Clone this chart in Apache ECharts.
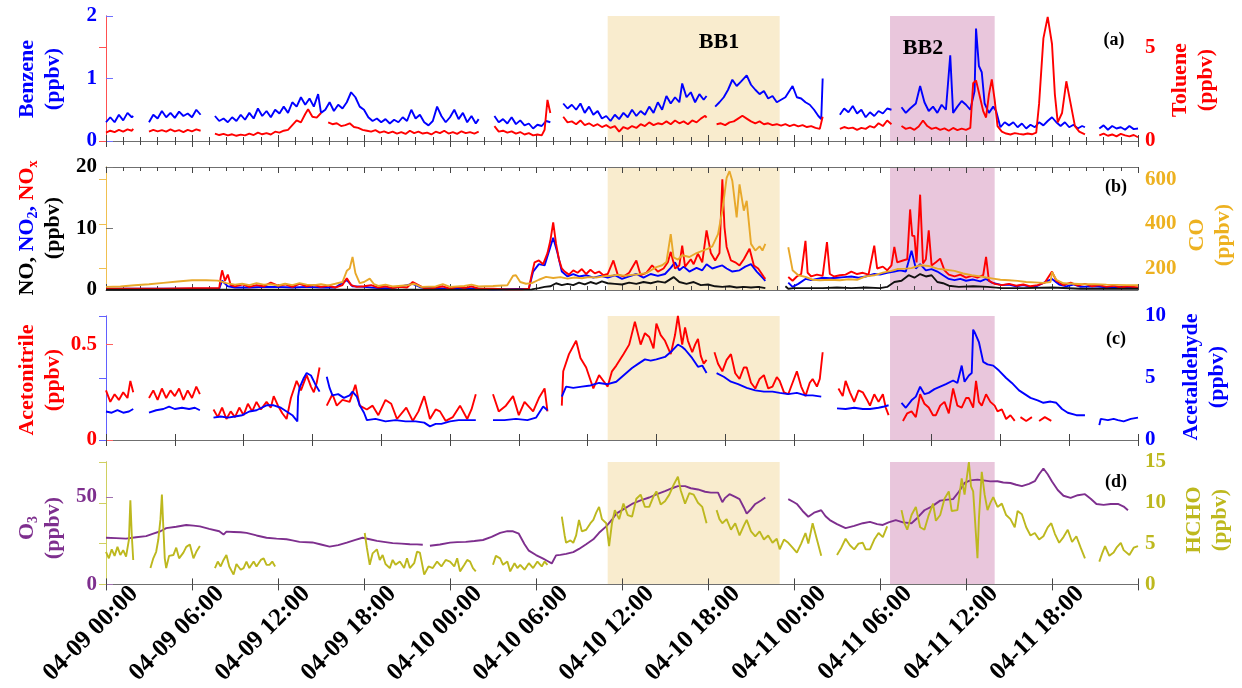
<!DOCTYPE html>
<html><head><meta charset="utf-8">
<script src="https://cdn.jsdelivr.net/npm/echarts@6/dist/echarts.min.js"></script>
<style>html,body{margin:0;padding:0;background:#fff}#c{width:1242px;height:688px}</style>
</head><body><div id="c"></div>
<script>
// x values are hours after 04-09 00:00; null = data gap
const tickLabels = ['04-09 00:00','04-09 06:00','04-09 12:00','04-09 18:00','04-10 00:00','04-10 06:00','04-10 12:00','04-10 18:00','04-11 00:00','04-11 06:00','04-11 12:00','04-11 18:00'];
const bb1 = [35, 47];
const bb2 = [54.7, 62];

const benzene = [[0,0.30],[0.3,0.38],[0.6,0.30],[0.9,0.42],[1.2,0.33],[1.5,0.45],[1.8,0.38],[1.9,0.40],null,
[3.0,0.30],[3.3,0.42],[3.6,0.36],[3.9,0.48],[4.2,0.38],[4.5,0.45],[4.8,0.37],[5.1,0.47],[5.4,0.40],[5.7,0.44],[6.0,0.38],[6.3,0.50],[6.6,0.42],null,
[7.6,0.40],[7.9,0.32],[8.2,0.36],[8.5,0.30],[8.8,0.38],[9.1,0.32],[9.4,0.42],[9.7,0.34],[10.0,0.45],[10.3,0.36],[10.6,0.52],[10.9,0.40],[11.2,0.48],[11.5,0.38],[11.8,0.50],[12.1,0.44],[12.4,0.55],[12.7,0.45],[13.0,0.62],[13.3,0.55],[13.6,0.70],[13.9,0.58],[14.2,0.68],[14.5,0.55],[14.8,0.75],[15.0,0.45],[15.3,0.50],[15.6,0.62],[15.9,0.48],[16.2,0.58],[16.5,0.52],[16.8,0.62],[17.1,0.78],[17.4,0.70],[17.7,0.55],[18.0,0.50],[18.3,0.38],[18.6,0.32],[18.9,0.36],[19.2,0.30],[19.5,0.35],[19.8,0.28],[20.1,0.34],[20.4,0.30],[20.7,0.38],[21.0,0.32],[21.3,0.50],[21.6,0.36],[21.9,0.42],[22.2,0.30],[22.5,0.25],[22.8,0.32],[23.1,0.55],[23.4,0.40],[23.7,0.30],[24.0,0.38],[24.3,0.50],[24.6,0.35],[24.9,0.45],[25.2,0.30],[25.5,0.40],[25.8,0.28],[26.0,0.35],null,
[27.1,0.40],[27.4,0.30],[27.7,0.35],[28.0,0.28],[28.3,0.38],[28.6,0.27],[28.9,0.33],[29.2,0.25],[29.5,0.28],[29.8,0.20],[30.1,0.26],[30.4,0.24],[30.7,0.32],[31.0,0.30],null,
[31.9,0.60],[32.2,0.52],[32.5,0.58],[32.8,0.50],[33.1,0.60],[33.4,0.45],[33.7,0.55],[34.0,0.42],[34.3,0.48],[34.6,0.36],[34.9,0.40],[35.2,0.32],[35.5,0.42],[35.8,0.35],[36.1,0.45],[36.4,0.38],[36.7,0.50],[37.0,0.40],[37.3,0.48],[37.6,0.42],[37.9,0.55],[38.2,0.45],[38.5,0.62],[38.8,0.50],[39.1,0.72],[39.4,0.60],[39.7,0.70],[40.0,0.62],[40.2,0.92],[40.5,0.70],[40.8,0.78],[41.1,0.62],[41.4,0.75],[41.7,0.66],[41.9,0.72],null,
[42.5,0.55],[42.8,0.62],[43.1,0.70],[43.4,0.82],[43.7,0.98],[44.0,0.88],[44.3,0.95],[44.7,1.05],[45.0,0.90],[45.3,0.82],[45.6,0.75],[45.9,0.80],[46.2,0.68],[46.5,0.72],[46.8,0.62],[47.1,0.66],[47.4,0.70],[47.9,0.88],[48.2,0.70],[48.5,0.68],[48.8,0.62],[49.1,0.58],[49.4,0.50],[49.7,0.40],[49.9,0.35],[50.0,1.00],null,
[51.2,0.42],[51.5,0.52],[51.8,0.46],[52.1,0.56],[52.4,0.44],[52.7,0.50],[53.0,0.38],[53.3,0.46],[53.6,0.40],[53.9,0.48],[54.2,0.44],[54.5,0.52],[54.8,0.50],null,
[55.5,0.54],[55.8,0.45],[56.1,0.52],[56.5,0.60],[56.8,0.88],[57.1,0.62],[57.4,0.48],[57.7,0.55],[58.0,0.45],[58.3,0.58],[58.6,0.50],[58.9,1.37],[59.1,0.45],[59.4,0.55],[59.7,0.64],[60.0,0.58],[60.3,0.50],[60.6,0.80],[60.7,1.80],[60.9,1.20],[61.1,1.10],[61.3,0.60],[61.6,0.45],[61.9,0.55],[62.1,0.48],[62.4,0.22],[62.7,0.30],[63.0,0.25],[63.3,0.30],[63.6,0.22],[63.9,0.28],[64.2,0.20],[64.5,0.26],[64.8,0.22],[65.1,0.30],[65.4,0.25],[65.7,0.32],[66.0,0.38],[66.3,0.30],[66.6,0.24],[66.9,0.30],[67.2,0.22],[67.5,0.26],[67.8,0.20],[68.1,0.24],[68.3,0.22],null,
[69.3,0.20],[69.6,0.25],[69.9,0.18],[70.2,0.24],[70.5,0.20],[70.8,0.22],[71.1,0.18],[71.4,0.24],[71.7,0.19],[72.0,0.20]];

const toluene = [[0,0.45],[0.3,0.55],[0.6,0.48],[0.9,0.60],[1.2,0.50],[1.5,0.62],[1.8,0.55],[1.9,0.65],null,
[3.0,0.50],[3.3,0.60],[3.6,0.52],[3.9,0.58],[4.2,0.50],[4.5,0.62],[4.8,0.52],[5.1,0.58],[5.4,0.48],[5.7,0.60],[6.0,0.52],[6.3,0.62],[6.6,0.55],null,
[7.6,0.40],[7.9,0.32],[8.2,0.38],[8.5,0.30],[8.8,0.36],[9.1,0.28],[9.4,0.34],[9.7,0.30],[10.0,0.40],[10.3,0.32],[10.6,0.45],[10.9,0.36],[11.2,0.42],[11.5,0.35],[11.8,0.50],[12.1,0.45],[12.4,0.55],[12.7,0.60],[13.0,0.85],[13.3,1.10],[13.6,1.00],[13.9,1.45],[14.1,1.70],[14.4,1.30],[14.7,1.25],[15.0,1.50],null,
[15.5,1.00],[15.8,0.90],[16.1,0.95],[16.4,0.80],[16.7,0.85],[17.0,0.95],[17.3,0.75],[17.6,0.70],[17.9,0.60],[18.2,0.55],[18.5,0.50],[18.8,0.58],[19.1,0.45],[19.4,0.52],[19.7,0.42],[20.0,0.50],[20.3,0.40],[20.6,0.48],[20.9,0.38],[21.2,0.55],[21.5,0.42],[21.8,0.50],[22.1,0.40],[22.4,0.45],[22.7,0.35],[23.0,0.50],[23.3,0.42],[23.6,0.55],[23.9,0.40],[24.2,0.48],[24.5,0.38],[24.8,0.52],[25.1,0.42],[25.4,0.48],[25.7,0.40],[26.0,0.50],null,
[27.1,0.80],[27.4,0.50],[27.7,0.55],[28.0,0.45],[28.3,0.52],[28.6,0.40],[28.9,0.48],[29.2,0.35],[29.5,0.42],[29.8,0.30],[30.1,0.35],[30.4,0.30],[30.6,0.60],[30.8,2.20],[31.0,1.50],null,
[31.9,1.30],[32.2,1.00],[32.5,1.05],[32.8,0.90],[33.1,1.10],[33.4,0.85],[33.7,0.95],[34.0,0.80],[34.3,0.90],[34.6,0.75],[34.9,0.85],[35.2,0.70],[35.5,0.80],[35.8,0.50],[36.1,0.75],[36.4,0.65],[36.7,0.80],[37.0,0.70],[37.3,0.90],[37.6,0.80],[37.9,1.00],[38.2,0.85],[38.5,0.95],[38.8,0.90],[39.1,1.05],[39.4,0.90],[39.7,1.10],[40.0,0.95],[40.3,1.05],[40.6,0.90],[40.9,1.10],[41.2,1.00],[41.5,1.20],[41.8,1.35],[41.9,1.25],null,
[42.6,0.90],[42.9,0.95],[43.2,0.85],[43.5,1.00],[43.8,1.05],[44.1,1.20],[44.4,1.35],[44.7,1.20],[45.0,1.05],[45.3,0.95],[45.6,1.05],[45.9,0.90],[46.2,0.95],[46.5,0.85],[46.8,0.90],[47.1,0.82],[47.4,0.90],[47.7,0.80],[48.0,0.88],[48.3,0.78],[48.6,0.85],[48.9,0.75],[49.2,0.80],[49.5,0.70],[49.8,0.65],[50.0,1.30],null,
[51.2,0.65],[51.5,0.75],[51.8,0.68],[52.1,0.72],[52.4,0.60],[52.7,0.70],[53.0,0.65],[53.3,0.80],[53.6,0.72],[53.9,0.95],[54.2,0.80],[54.5,1.10],[54.8,0.90],null,
[55.5,0.80],[55.8,0.65],[56.1,0.72],[56.4,0.60],[56.7,0.78],[57.0,1.10],[57.3,0.80],[57.6,0.65],[57.9,0.72],[58.2,0.60],[58.5,0.68],[58.8,0.55],[59.1,0.70],[59.4,0.58],[59.7,0.66],[60.0,0.60],[60.3,0.70],[60.5,3.10],[60.7,3.25],[60.9,2.60],[61.2,1.60],[61.4,1.26],[61.6,2.50],[61.8,3.30],[62.0,2.20],[62.2,0.80],[62.5,0.50],[62.8,0.40],[63.1,0.35],[63.4,0.42],[63.7,0.38],[64.0,0.35],[64.3,0.40],[64.6,0.36],[64.9,0.45],[65.1,2.00],[65.4,5.50],[65.7,6.65],[66.0,5.20],[66.2,2.50],[66.4,1.00],[66.7,1.50],[67.0,3.20],[67.3,2.00],[67.6,0.80],[67.9,0.50],[68.3,0.36],null,
[69.3,0.30],[69.6,0.40],[69.9,0.28],[70.2,0.35],[70.5,0.25],[70.8,0.38],[71.1,0.30],[71.4,0.25],[71.7,0.32],[72.0,0.20]];

const nox = [[0,0.2],[2,0.2],[4,0.2],[6,0.3],[7.9,0.3],[8.0,2.0],[8.1,3.2],[8.3,1.5],[8.5,2.5],[8.7,0.8],[9.0,0.6],[9.5,0.9],[10,0.5],[10.5,0.8],[11,0.6],[11.5,1.2],[12,0.7],[12.5,0.9],[13,0.5],[13.5,1.0],[14,0.6],[14.5,0.8],[15,0.5],[15.5,0.7],[16,0.4],[16.5,0.8],[16.8,1.9],[17.1,0.8],[17.5,0.5],[18,0.6],[18.5,0.8],[19,0.4],[19.5,0.6],[20,0.3],[20.5,0.5],[21,0.4],[21.4,1.3],[21.8,0.8],[22.2,0.3],[22.6,0.2],[23,0.4],[23.5,0.6],[24,0.2],[24.5,0.5],[25,0.3],[25.5,0.6],[26,0.2],[27,0.2],[28,0.1],[29,0.1],[29.5,0.2],[29.7,2.5],[29.9,4.5],[30.2,4.8],[30.5,4.2],[30.8,6.0],[31.0,8.0],[31.2,11.0],[31.4,7.5],[31.6,5.0],[31.8,3.5],[32.0,3.0],[32.3,2.5],[32.6,3.2],[32.9,2.8],[33.2,3.4],[33.5,2.6],[33.8,3.3],[34.1,2.7],[34.4,3.0],[34.7,2.4],[35.0,2.6],[35.4,4.8],[35.7,2.5],[36.1,2.2],[36.5,2.8],[37.0,4.8],[37.3,2.4],[37.7,2.8],[38.1,4.0],[38.5,3.0],[38.9,3.5],[39.2,4.5],[39.4,6.2],[39.7,3.5],[40.0,4.0],[40.2,7.2],[40.4,3.8],[40.8,5.0],[41.0,4.2],[41.3,5.9],[41.6,4.5],[41.9,9.7],[42.2,6.0],[42.5,4.8],[42.8,6.0],[43.0,18.0],[43.15,10.2],[43.3,7.0],[43.6,4.8],[43.9,4.5],[44.2,4.0],[44.5,5.0],[44.9,6.7],[45.2,4.0],[45.5,3.5],[45.9,2.1],[46.0,1.8],null,
[47.6,2.1],[47.9,1.5],[48.2,2.2],[48.5,2.6],[48.8,8.0],[48.95,2.8],[49.2,2.2],[49.6,2.5],[50.0,2.3],[50.3,7.8],[50.5,2.6],[50.8,2.2],[51.2,2.4],[51.6,2.5],[52.0,3.0],[52.4,2.6],[52.8,2.8],[53.2,2.5],[53.6,7.2],[53.8,3.5],[54.2,3.8],[54.5,3.2],[54.8,4.0],[55.0,7.0],[55.2,4.5],[55.6,4.8],[55.9,5.0],[56.1,13.1],[56.25,8.8],[56.4,8.8],[56.55,4.5],[56.8,15.5],[57.0,4.3],[57.2,5.0],[57.4,9.7],[57.6,4.0],[57.9,4.5],[58.2,5.1],[58.5,3.2],[58.8,2.5],[59.2,2.2],[59.6,2.5],[60.0,2.0],[60.4,2.3],[60.8,2.0],[61.2,2.4],[61.4,5.4],[61.6,1.5],[62.0,1.0],[62.5,0.8],[63,1.0],[63.5,0.7],[64,0.9],[64.5,0.6],[65,0.8],[65.5,1.2],[66.0,3.0],[66.3,1.5],[66.8,0.8],[67.3,1.2],[67.8,0.7],[68.3,1.0],[68.8,0.6],[69.3,0.8],[69.8,0.5],[70.3,0.7],[70.8,0.4],[71.3,0.6],[72,0.4]];

const no2 = [[0,0.2],[4,0.2],[7.9,0.2],[8.1,1.5],[8.5,0.6],[9,0.4],[10,0.4],[11,0.5],[12,0.5],[13,0.4],[14,0.5],[15,0.4],[16,0.4],[16.8,1.6],[17.2,0.6],[18,0.5],[19,0.3],[20,0.3],[21.4,1.0],[22,0.4],[23,0.3],[24,0.2],[25,0.3],[26,0.2],[27,0.1],[29.5,0.2],[29.8,3.0],[30.2,4.2],[30.6,4.0],[31.0,7.0],[31.2,8.5],[31.5,6.0],[31.8,3.0],[32.2,2.2],[32.6,2.6],[33,2.2],[33.5,2.4],[34,2.0],[34.5,2.3],[35,2.0],[35.5,2.4],[36,1.8],[36.5,2.2],[37,2.6],[37.5,2.0],[38,2.6],[38.5,2.3],[39,2.6],[39.4,3.6],[39.7,4.5],[40,3.2],[40.3,3.8],[40.7,3.0],[41.2,3.6],[41.6,3.2],[41.9,4.2],[42.3,3.5],[42.7,3.8],[43.0,4.0],[43.3,3.5],[43.7,3.0],[44.2,3.2],[44.6,3.8],[45.0,4.2],[45.4,3.0],[45.8,2.0],[46.0,1.5],null,
[47.6,1.2],[47.9,0.5],[48.3,1.0],[48.8,1.8],[49.2,1.6],[49.6,1.8],[50.0,2.0],[50.5,1.9],[51,2.0],[51.5,2.1],[52,2.2],[52.5,2.0],[53,2.2],[53.6,2.6],[54,2.5],[54.5,2.8],[55,3.0],[55.4,3.2],[55.8,3.0],[56.2,6.4],[56.5,3.5],[56.8,4.2],[57.2,3.2],[57.6,3.4],[58,3.0],[58.4,2.4],[58.8,1.8],[59.2,1.6],[59.6,1.8],[60,1.5],[60.5,1.7],[61,1.4],[61.4,1.8],[61.8,1.2],[62.5,0.8],[63,0.9],[63.5,0.6],[64,0.8],[64.5,0.5],[65,0.7],[66,1.8],[66.5,0.9],[67,0.6],[67.5,0.9],[68,0.5],[69,0.6],[70,0.4],[71,0.5],[72,0.3]];

const no = [[0,0.05],[10,0.05],[20,0.05],[29.7,0.1],[30.2,0.3],[30.6,0.5],[31,0.6],[31.4,1.1],[31.8,0.8],[32.2,1.0],[32.6,0.8],[33,1.2],[33.4,0.9],[33.8,1.3],[34.2,1.0],[34.6,1.4],[35,1.1],[35.5,1.0],[36,0.9],[36.5,1.2],[37,1.0],[37.5,1.3],[38,1.1],[38.5,1.4],[39,1.2],[39.6,2.1],[40,1.3],[40.5,1.0],[41,1.3],[41.5,0.8],[42,0.9],[42.5,0.6],[43,0.5],[43.5,0.6],[44,0.4],[44.5,0.5],[45,0.4],[45.5,0.5],[46,0.3],null,
[47.4,0.6],[47.6,0.2],[48,0.3],[49,0.3],[50,0.3],[51,0.4],[52,0.3],[53,0.4],[54,0.3],[54.5,0.5],[55,1.3],[55.5,1.5],[56,2.4],[56.4,2.0],[56.8,2.6],[57.2,2.2],[57.6,2.4],[58,1.3],[58.4,1.1],[58.8,0.7],[59.5,0.5],[60.5,0.6],[61.5,0.5],[62.5,0.3],[64,0.3],[66,0.4],[68,0.2],[70,0.2],[72,0.2]];

const co = [[0,118],[1,120],[2,125],[3,130],[4,136],[5,142],[6,148],[7,148],[7.8,146],[8.4,135],[9,128],[9.5,132],[10,126],[10.5,135],[11,128],[11.5,130],[12,124],[12.5,132],[13,126],[13.5,135],[14,128],[14.5,126],[15,130],[15.5,125],[16,132],[16.5,140],[16.8,190],[17.0,200],[17.2,252],[17.4,180],[17.7,135],[18,140],[18.4,155],[18.7,130],[19,122],[19.5,128],[20,120],[21,125],[21.5,132],[22,118],[23,120],[23.5,130],[24,118],[25,122],[25.5,128],[26,120],[27,122],[28,125],[28.4,168],[28.6,170],[28.9,140],[29.3,132],[29.7,135],[30.2,150],[30.7,163],[31.2,158],[31.7,162],[32.2,155],[32.7,160],[33.2,157],[33.7,162],[34.2,160],[34.7,165],[35.2,168],[35.7,172],[36.2,168],[36.7,172],[37.2,175],[37.7,180],[38.4,207],[38.8,215],[39.1,230],[39.4,355],[39.6,250],[39.9,240],[40.2,260],[40.7,252],[41.2,270],[41.6,280],[42.0,290],[42.3,300],[42.7,355],[43.0,460],[43.3,607],[43.5,637],[43.7,593],[44.0,430],[44.2,578],[44.5,460],[44.7,504],[45.0,311],[45.3,281],[45.6,300],[45.8,281],[46.0,311],null,
[47.6,296],[47.9,193],[48.3,170],[48.8,163],[49.3,150],[49.8,148],[50.5,150],[51.2,148],[51.8,152],[52.4,150],[53,165],[53.6,170],[54.2,182],[54.8,190],[55.2,198],[55.8,200],[56.2,202],[56.8,215],[57.4,212],[58,200],[58.6,195],[59.2,190],[59.8,178],[60.4,170],[61,165],[61.4,160],[61.9,155],[62.4,150],[63,148],[63.6,145],[64.2,140],[64.8,138],[65.4,136],[65.9,140],[66.0,185],[66.3,150],[66.8,134],[67.5,132],[68.2,130],[69,130],[69.8,128],[70.5,127],[71.2,126],[72,125]];

const acetonitrile = [[0,0.26],[0.3,0.20],[0.6,0.24],[0.9,0.21],[1.2,0.25],[1.5,0.22],[1.7,0.31],[1.9,0.25],null,
[3.0,0.22],[3.3,0.26],[3.6,0.21],[3.9,0.27],[4.2,0.22],[4.5,0.26],[4.8,0.23],[5.1,0.27],[5.4,0.21],[5.7,0.26],[6.0,0.22],[6.3,0.28],[6.55,0.24],null,
[7.5,0.16],[7.8,0.12],[8.1,0.17],[8.4,0.11],[8.7,0.15],[9.0,0.12],[9.3,0.17],[9.6,0.13],[9.9,0.19],[10.2,0.15],[10.5,0.20],[10.8,0.16],[11.2,0.20],[11.5,0.17],[11.7,0.23],[12.0,0.18],[12.3,0.14],[12.6,0.11],[12.9,0.22],[13.3,0.31],[13.6,0.26],[14.0,0.34],[14.3,0.28],[14.5,0.25],[14.7,0.30],[14.9,0.38],null,
[15.4,0.18],[15.8,0.24],[16.1,0.18],[16.5,0.21],[17.0,0.20],[17.4,0.29],[17.7,0.18],[18.2,0.16],[18.6,0.18],[19.0,0.13],[19.5,0.21],[19.9,0.19],[20.3,0.11],[20.95,0.17],[21.4,0.10],[21.8,0.15],[22.2,0.23],[22.6,0.11],[23.0,0.16],[23.3,0.15],[23.7,0.10],[24.2,0.12],[24.7,0.18],[25.2,0.11],[25.5,0.16],[25.8,0.24],null,
[27.0,0.24],[27.4,0.15],[27.9,0.18],[28.4,0.23],[28.8,0.13],[29.2,0.20],[29.8,0.15],[30.2,0.22],[30.6,0.27],[30.8,0.15],null,
[31.8,0.18],[31.9,0.36],[32.3,0.45],[32.8,0.52],[33.1,0.43],[33.5,0.38],[34.0,0.27],[34.4,0.34],[34.8,0.30],[35.0,0.28],[35.3,0.36],[35.6,0.39],[36.1,0.45],[36.5,0.50],[36.9,0.62],[37.3,0.50],[37.6,0.56],[37.9,0.54],[38.2,0.48],[38.4,0.61],[38.7,0.55],[39.0,0.52],[39.4,0.45],[39.7,0.55],[39.9,0.65],[40.2,0.50],[40.4,0.59],[40.6,0.52],[40.9,0.46],[41.1,0.50],[41.3,0.53],[41.5,0.44],[41.7,0.40],[41.9,0.42],null,
[42.45,0.46],[42.7,0.40],[43.0,0.36],[43.3,0.42],[43.6,0.45],[43.9,0.35],[44.2,0.32],[44.5,0.38],[44.7,0.38],[45.0,0.30],[45.3,0.27],[45.6,0.32],[45.9,0.34],[46.2,0.27],[46.5,0.28],[46.8,0.33],[47.0,0.31],[47.3,0.25],[47.6,0.24],[47.9,0.30],[48.2,0.36],[48.5,0.28],[48.8,0.23],[49.1,0.30],[49.3,0.32],[49.6,0.28],[49.8,0.32],[50.0,0.46],null,
[51.1,0.27],[51.4,0.23],[51.6,0.31],[51.9,0.25],[52.2,0.20],[52.5,0.26],[52.8,0.25],[53.1,0.21],[53.3,0.18],[53.6,0.24],[53.9,0.20],[54.2,0.24],[54.4,0.17],[54.6,0.13],null,
[55.6,0.10],[55.9,0.14],[56.2,0.15],[56.5,0.12],[56.8,0.24],[57.1,0.19],[57.4,0.17],[57.7,0.13],[57.9,0.13],[58.2,0.18],[58.5,0.20],[58.8,0.14],[59.1,0.27],[59.4,0.18],[59.7,0.17],[60.0,0.22],[60.2,0.22],[60.5,0.17],[60.7,0.31],[60.9,0.20],[61.1,0.18],[61.4,0.24],[61.7,0.20],[62.0,0.18],[62.2,0.15],[62.5,0.16],[62.8,0.11],[63.1,0.13],[63.4,0.10],null,
[63.8,0.12],[64.2,0.10],[64.6,0.12],null,[65.1,0.10],[65.5,0.12],[65.95,0.10]];

const acetaldehyde = [[0,2.3],[0.4,2.2],[0.8,2.4],[1.2,2.2],[1.6,2.3],[1.9,2.5],null,
[3.0,2.2],[3.5,2.4],[4.0,2.5],[4.4,2.7],[4.8,2.5],[5.3,2.6],[5.8,2.5],[6.2,2.6],[6.55,2.4],null,
[7.5,1.8],[8.0,1.9],[8.5,1.8],[9.0,1.9],[9.5,2.0],[10.0,2.3],[10.5,2.4],[11.2,2.8],[11.7,2.8],[12.2,2.6],[12.6,2.3],[13.0,2.0],[13.35,1.5],[13.4,3.5],[13.5,4.2],[13.8,5.0],[14.0,5.4],[14.3,5.2],[14.6,4.5],[14.9,3.9],null,
[15.4,5.1],[15.6,4.2],[15.8,3.6],[16.2,3.7],[16.6,3.4],[17.0,3.6],[17.2,3.9],[17.5,3.5],[17.7,2.8],[18.0,2.2],[18.2,1.6],[18.8,1.7],[19.5,1.5],[20.2,1.6],[20.9,1.5],[21.6,1.5],[22.2,1.4],[22.6,1.1],[23.0,1.3],[23.4,1.3],[24.0,1.5],[24.6,1.6],[25.2,1.6],[25.8,1.6],null,
[27.0,1.6],[27.8,1.6],[28.6,1.7],[29.4,1.6],[30.0,1.8],[30.5,2.7],[30.8,2.4],null,
[31.8,3.5],[32.1,4.3],[32.6,4.2],[33.2,4.3],[33.8,4.4],[34.4,4.6],[35.0,4.5],[35.6,4.7],[36.2,5.3],[36.7,5.8],[37.2,6.2],[37.6,6.5],[38.0,6.4],[38.4,6.5],[39.0,6.7],[39.5,7.2],[39.9,7.7],[40.2,7.5],[40.4,7.3],[40.9,6.6],[41.3,5.9],[41.6,6.0],[41.9,5.4],null,
[42.6,5.4],[43.1,5.1],[43.6,4.7],[44.1,4.5],[44.7,4.2],[45.3,4.0],[45.9,3.9],[46.5,3.9],[47.0,3.8],[47.6,3.7],[48.2,3.8],[48.8,3.6],[49.3,3.6],[49.9,3.5],null,
[51.0,2.55],[51.6,2.5],[52.2,2.6],[52.8,2.5],[53.3,2.5],[53.9,2.6],[54.3,2.7],[54.6,2.8],null,
[55.5,3.0],[55.8,2.6],[56.2,3.2],[56.5,3.5],[56.8,4.3],[57.1,3.7],[57.4,3.8],[57.8,4.1],[58.2,4.3],[58.6,4.5],[59.1,4.8],[59.4,4.6],[59.7,6.0],[59.9,4.7],[60.2,5.2],[60.4,5.4],[60.5,8.9],[60.6,8.7],[60.9,7.9],[61.2,6.3],[61.5,6.1],[61.9,6.0],[62.3,5.6],[62.8,5.0],[63.2,4.6],[63.7,4.0],[64.1,3.7],[64.5,3.4],[65.0,3.2],[65.4,3.0],[65.9,3.1],[66.3,3.0],[66.7,2.5],[67.1,2.2],[67.7,2.0],[68.3,2.0],null,
[69.3,1.2],[69.4,1.7],[69.9,1.6],[70.3,1.7],[70.6,1.6],[71.0,1.5],[71.5,1.7],[72.0,1.8]];

const o3 = [[0,26.7],[0.7,26.5],[1.4,26.2],[2.1,27.0],[2.8,27.6],[3.3,29],[3.8,30.4],[4.2,32.2],[4.9,33.0],[5.6,34.0],[6.1,33.6],[6.55,33.2],[7.2,31.8],[7.9,30.4],[8.2,28.5],[8.4,30.2],[8.9,30.0],[9.4,29.8],[9.8,29.5],[10.5,28.0],[11.2,26.7],[11.9,26.2],[12.6,25.8],[13.0,25.2],[13.5,24.3],[14.4,24.0],[15.0,22.8],[15.6,21.6],[16.2,22.5],[16.8,23.9],[17.4,25.5],[17.9,26.7],[18.4,25.8],[18.9,24.9],[19.5,24.2],[20.0,23.6],[20.6,23.3],[21.2,23.0],[21.7,22.9],[22.1,22.7],null,
[22.6,22.1],[23.3,22.8],[24.0,23.9],[24.5,24.2],[25.1,24.3],[25.7,24.8],[26.3,25.4],[26.9,27.2],[27.5,29.5],[28.0,30.5],[28.4,30.4],[28.8,29.0],[29.2,23.0],[29.5,19.3],[30.0,16.8],[30.5,14.7],[30.8,13.4],[31.1,12.0],[31.4,16.6],[31.7,16.9],[32.1,17.5],[32.6,18.5],[33.0,20.3],[33.5,23.0],[34.0,25.8],[34.4,29.5],[34.9,33.2],[35.3,37.0],[35.6,40.5],[36.2,43.5],[36.7,46.0],[37.3,48.0],[37.9,49.7],[38.4,51.5],[39.0,53.4],[39.5,55.0],[39.9,56.2],[40.4,56.2],[40.8,55.0],[41.3,54.3],[41.8,53.0],[42.2,52.5],[42.7,52.5],[43.0,47.0],[43.2,49.5],[43.5,51.6],[43.9,50.0],[44.2,48.8],[44.5,44.0],[44.7,40.5],[45.0,43.0],[45.3,46.0],[45.7,48.0],[46.0,49.7],null,
[47.6,48.8],[48.0,47.0],[48.2,46.0],[48.6,42.0],[49.0,38.7],[49.4,41.0],[49.9,42.4],[50.2,39.0],[50.5,36.8],[51.0,34.5],[51.6,32.2],[52.2,33.5],[52.8,35.0],[53.3,35.8],[53.8,34.5],[54.2,34.0],[54.6,35.5],[55.1,36.8],[55.6,35.5],[56.2,35.0],[56.6,38.0],[57.1,42.4],[57.6,44.5],[58.2,47.9],[58.7,48.5],[59.1,48.8],[59.5,53.0],[59.9,58.0],[60.3,59.5],[60.8,59.9],[61.2,59.5],[61.7,58.9],[62.2,59.0],[62.6,58.3],[63.1,58.0],[63.5,57.0],[63.9,56.2],[64.4,57.5],[64.8,59.0],[65.1,63.0],[65.4,66.3],[65.7,63.0],[66.0,58.9],[66.4,54.0],[66.8,50.7],[67.3,49.5],[67.8,51.0],[68.3,51.6],[68.7,49.0],[69.1,46.0],[69.6,45.5],[70.1,46.0],[70.6,46.0],[71.0,44.5],[71.3,42.4]];

const hcho = [[0,4.0],[0.2,3.2],[0.4,4.3],[0.6,3.5],[0.8,4.6],[1.0,3.6],[1.2,4.2],[1.4,3.4],[1.6,5.5],[1.7,10.3],[1.8,6.0],[1.9,3.0],null,
[3.1,2.0],[3.3,3.2],[3.5,4.0],[3.65,5.5],[3.8,8.0],[3.9,11.0],[4.0,7.0],[4.1,3.2],[4.2,2.0],[4.4,3.5],[4.7,3.6],[4.9,4.5],[5.1,3.2],[5.4,3.9],[5.6,4.6],[5.85,4.9],[6.1,3.2],[6.3,4.0],[6.55,4.7],null,
[7.6,2.0],[7.8,2.8],[8.0,2.2],[8.2,3.0],[8.4,3.6],[8.6,2.2],[8.9,1.2],[9.1,2.5],[9.4,1.8],[9.6,2.0],[9.8,2.8],[10.0,2.0],[10.3,2.8],[10.5,2.2],[10.8,3.0],[11.0,3.2],[11.2,2.4],[11.4,2.4],[11.6,2.8],[11.8,2.2],null,
[18.05,6.3],[18.2,4.5],[18.4,2.4],[18.6,3.8],[18.9,4.3],[19.1,3.0],[19.3,3.6],[19.5,2.5],[19.8,2.0],[20.0,3.0],[20.2,2.4],[20.5,2.8],[20.8,2.0],[21.0,3.2],[21.2,2.0],[21.5,2.6],[21.7,4.0],[21.9,3.9],[22.2,1.2],[22.5,2.2],[22.8,2.0],[23.1,2.8],[23.4,2.2],[23.7,3.0],[24.0,2.8],[24.3,2.2],[24.5,3.2],[24.7,1.6],[25.0,2.4],[25.2,3.0],[25.4,2.8],[25.6,2.0],[25.8,1.6],null,
[27.0,2.4],[27.2,3.5],[27.5,3.2],[27.7,2.4],[28.0,2.8],[28.2,1.6],[28.5,2.6],[28.7,2.0],[28.9,2.4],[29.2,1.8],[29.5,2.6],[29.8,2.0],[30.1,2.8],[30.4,2.2],[30.6,2.8],[30.8,2.4],null,
[31.8,8.3],[32.0,6.0],[32.1,5.1],[32.4,5.4],[32.6,5.1],[32.8,6.0],[33.0,7.9],[33.2,6.5],[33.5,6.7],[33.8,7.5],[34.0,7.9],[34.2,8.8],[34.4,9.5],[34.6,8.0],[34.9,7.5],[35.1,4.7],[35.3,7.5],[35.5,9.1],[35.8,8.0],[36.1,9.9],[36.4,8.5],[36.7,8.3],[37.0,10.5],[37.3,11.0],[37.6,9.5],[37.9,9.5],[38.2,10.8],[38.4,11.4],[38.7,9.8],[39.0,10.2],[39.3,11.0],[39.6,12.2],[39.9,13.2],[40.1,11.5],[40.4,9.9],[40.7,11.2],[41.0,11.0],[41.3,10.0],[41.6,9.5],[41.9,7.5],null,
[42.6,9.1],[42.8,8.0],[43.0,7.5],[43.3,8.0],[43.6,6.7],[43.9,7.5],[44.2,6.0],[44.5,7.2],[44.7,7.9],[45.0,6.5],[45.3,5.9],[45.6,6.5],[45.9,5.5],[46.2,6.0],[46.5,5.1],[46.8,5.6],[47.0,4.3],[47.3,5.5],[47.6,5.1],[47.9,4.5],[48.2,3.9],[48.5,5.0],[48.8,6.3],[49.0,5.0],[49.3,7.5],[49.6,5.5],[49.9,3.5],null,
[51.0,3.6],[51.3,4.5],[51.6,5.6],[51.9,4.8],[52.2,4.3],[52.5,5.0],[52.8,5.1],[53.0,4.3],[53.3,4.3],[53.6,5.5],[53.9,6.3],[54.2,5.8],[54.5,7.1],null,
[55.5,9.1],[55.7,7.5],[55.9,6.7],[56.2,8.5],[56.5,9.5],[56.8,7.0],[57.1,6.7],[57.4,8.5],[57.7,9.9],[57.9,7.8],[58.2,8.5],[58.5,10.5],[58.8,11.4],[59.0,9.0],[59.4,9.1],[59.7,13.0],[59.9,11.0],[60.2,15.0],[60.35,12.0],[60.5,11.4],[60.8,3.2],[60.9,8.0],[61.1,13.8],[61.3,11.0],[61.5,9.1],[61.7,10.0],[61.9,10.7],[62.2,9.5],[62.5,9.9],[62.8,8.5],[63.1,8.0],[63.4,7.0],[63.6,9.0],[63.9,8.6],[64.2,7.0],[64.5,6.0],[64.8,6.3],[65.1,5.5],[65.4,5.9],[65.7,7.0],[65.95,7.5],[66.2,6.2],[66.5,5.1],[66.8,5.8],[67.1,6.7],[67.4,5.2],[67.7,5.9],[68.0,4.5],[68.3,3.2],null,
[69.3,2.8],[69.5,3.8],[69.7,4.7],[70.0,3.5],[70.3,3.9],[70.5,4.5],[70.8,5.1],[71.0,4.2],[71.4,3.6],[71.7,4.5],[72.0,4.7]];

const FONT = '"Liberation Serif","Times New Roman",serif';
const chart = echarts.init(document.getElementById('c'), null, {renderer: 'canvas'});

const grids = [
  {left: 106, right: 104, top: 16, height: 125},
  {left: 106, right: 104, top: 167, height: 123},
  {left: 106, right: 104, top: 316, height: 124},
  {left: 106, right: 104, top: 462, height: 126}
];
const xIntervals = [6, 6, 4.8, 6];
const xMinor = [true, true, false, false];

const xAxes = [];
grids.forEach((g, i) => {
  ['bottom', 'top'].forEach(pos => {
    xAxes.push({
      type: 'value', gridIndex: i, position: pos, min: 0, max: 72, interval: xIntervals[i],
      axisLine: {show: true, lineStyle: {color: '#6f6f6f', width: 1}},
      axisTick: {show: true, inside: true, length: 6, lineStyle: {color: '#444'}},
      minorTick: {show: xMinor[i], splitNumber: 5, length: 4, lineStyle: {color: '#444'}},
      splitLine: {show: false},
      axisLabel: (i === 3 && pos === 'bottom') ? {
        show: true, rotate: 45, margin: 34, padding: [0, -40, 0, 0], color: '#000', fontFamily: FONT, fontWeight: 'bold', fontSize: 25,
        formatter: v => { const k = Math.round(v / 6); return Math.abs(v - k * 6) < 1e-6 && tickLabels[k] ? tickLabels[k] : ''; }
      } : {show: false}
    });
  });
});

function yAx(gi, pos, min, max, interval, color, lineColor, custom) {
  const o = {
    type: 'value', gridIndex: gi, position: pos, min: min, max: max,
    axisLine: {show: true, lineStyle: {color: lineColor, width: 1}},
    axisTick: {show: true, inside: true, length: 7, lineStyle: {color: lineColor}},
    splitLine: {show: false},
    axisLabel: {show: true, color: color, fontFamily: FONT, fontWeight: 'bold', fontSize: 21, margin: pos === 'left' ? 9 : 7,
      showMaxLabel: false}
  };
  if (custom) {
    o.axisLabel.customValues = custom;
    o.axisTick.customValues = custom;
    o.axisLabel.showMaxLabel = true;
  } else {
    o.interval = interval;
  }
  return o;
}
const yAxes = [
  yAx(0, 'left', 0, 2, 1, '#0000ff', '#7070ff'),
  yAx(0, 'right', 0, 6.7, 5, '#ff0000', '#ff5050'),
  yAx(1, 'left', 0, 20, 10, '#000', '#777'),
  yAx(1, 'right', 104, 656, null, '#edb120', '#f0c050', [200, 400, 600]),
  yAx(2, 'left', 0, 0.65, 0.5, '#ff0000', '#ff6060'),
  yAx(2, 'right', 0, 10, 5, '#0000ff', '#6060ff'),
  yAx(3, 'left', 0, 70, 50, '#7e2f8e', '#a070b0'),
  yAx(3, 'right', 0, 15, 5, '#bdb81e', '#d0d060')
];
// axes whose top value is a labelled tick
yAxes[0].axisLabel.showMaxLabel = true;
yAxes[2].axisLabel.showMaxLabel = true;
yAxes[5].axisLabel.showMaxLabel = true;
yAxes[7].axisLabel.showMaxLabel = true;

const prep = d => d.map(p => p === null ? '-' : p);
function line(data, gi, side, color, z) {
  return {type: 'line', xAxisIndex: gi * 2, yAxisIndex: gi * 2 + side, data: prep(data),
    showSymbol: false, symbol: 'none', connectNulls: false, animation: false, silent: true,
    lineStyle: {color: color, width: 1.9}, itemStyle: {color: color}, z: z || 2};
}
function shade(gi) {
  return {type: 'line', xAxisIndex: gi * 2, yAxisIndex: gi * 2, data: [], silent: true, animation: false, z: 0,
    markArea: {silent: true, z: 0, data: [
      [{xAxis: bb1[0], itemStyle: {color: '#f9ecce'}}, {xAxis: bb1[1]}],
      [{xAxis: bb2[0], itemStyle: {color: '#e9c6dc'}}, {xAxis: bb2[1]}]
    ]}};
}

const series = [
  shade(0), shade(1), shade(2), shade(3),
  line(benzene, 0, 0, '#0000ff', 3),
  line(toluene, 0, 1, '#ff0000', 4),
  line(no2, 1, 0, '#0000ff', 3),
  line(nox, 1, 0, '#ff0000', 4),
  line(no, 1, 0, '#111111', 5),
  line(co, 1, 1, '#e8a82a', 6),
  line(acetonitrile, 2, 0, '#ff0000', 3),
  line(acetaldehyde, 2, 1, '#0000ff', 4),
  line(o3, 3, 0, '#7e2f8e', 3),
  line(hcho, 3, 1, '#bdb81e', 4)
];

function vtext(x, y, text, rich, color) {
  return {type: 'text', x: x, y: y, rotation: Math.PI / 2, z: 100, silent: true,
    style: {text: text, x: 0, y: 0, align: 'center', verticalAlign: 'middle', fill: color || '#000',
      font: 'bold 22px ' + FONT, lineHeight: 26, rich: rich}};
}
const R = (c, s) => ({fill: c, font: 'bold ' + (s || 22) + 'px ' + FONT, lineHeight: 26});
const S = c => ({fill: c, font: 'bold 14px ' + FONT, verticalAlign: 'bottom', lineHeight: 26, padding: [10, 0, 0, 0]});

const graphic = [
  vtext(40, 79, '{c|Benzene}\n{c|(ppbv)}', {c: R('#0000ff')}),
  vtext(40, 228, '{k|NO, }{b|NO}{bs|2}{b|, }{r|NO}{rs|x}\n{k|(ppbv)}', {k: R('#000'), b: R('#0000ff'), bs: S('#0000ff'), r: R('#ff0000'), rs: S('#ff0000')}),
  vtext(40, 380, '{c|Acetonitrile}\n{c|(ppbv)}', {c: R('#ff0000')}),
  vtext(40, 528, '{c|O}{s|3}\n{c|(ppbv)}', {c: R('#7e2f8e'), s: S('#7e2f8e')}),
  vtext(1193, 80, '{c|Toluene}\n{c|(ppbv)}', {c: R('#ff0000')}),
  vtext(1210, 235, '{c|CO}\n{c|(ppbv)}', {c: R('#edb120')}),
  vtext(1204, 377, '{c|Acetaldehyde}\n{c|(ppbv)}', {c: R('#0000ff')}),
  vtext(1207, 520, '{c|HCHO}\n{c|(ppbv)}', {c: R('#bdb81e')}),
  {type: 'text', x: 1114, y: 40, z: 100, style: {text: '(a)', align: 'center', verticalAlign: 'middle', fill: '#000', font: 'bold 18px ' + FONT}},
  {type: 'text', x: 1116, y: 187, z: 100, style: {text: '(b)', align: 'center', verticalAlign: 'middle', fill: '#000', font: 'bold 18px ' + FONT}},
  {type: 'text', x: 1116, y: 339, z: 100, style: {text: '(c)', align: 'center', verticalAlign: 'middle', fill: '#000', font: 'bold 18px ' + FONT}},
  {type: 'text', x: 1116, y: 482, z: 100, style: {text: '(d)', align: 'center', verticalAlign: 'middle', fill: '#000', font: 'bold 18px ' + FONT}},
  {type: 'text', x: 719, y: 42, z: 100, style: {text: 'BB1', align: 'center', verticalAlign: 'middle', fill: '#000', font: 'bold 22px ' + FONT}},
  {type: 'text', x: 923, y: 48, z: 100, style: {text: 'BB2', align: 'center', verticalAlign: 'middle', fill: '#000', font: 'bold 22px ' + FONT}}
];

chart.setOption({
  animation: false,
  backgroundColor: '#ffffff',
  grid: grids,
  xAxis: xAxes,
  yAxis: yAxes,
  series: series,
  graphic: graphic
});
</script>
</body></html>
